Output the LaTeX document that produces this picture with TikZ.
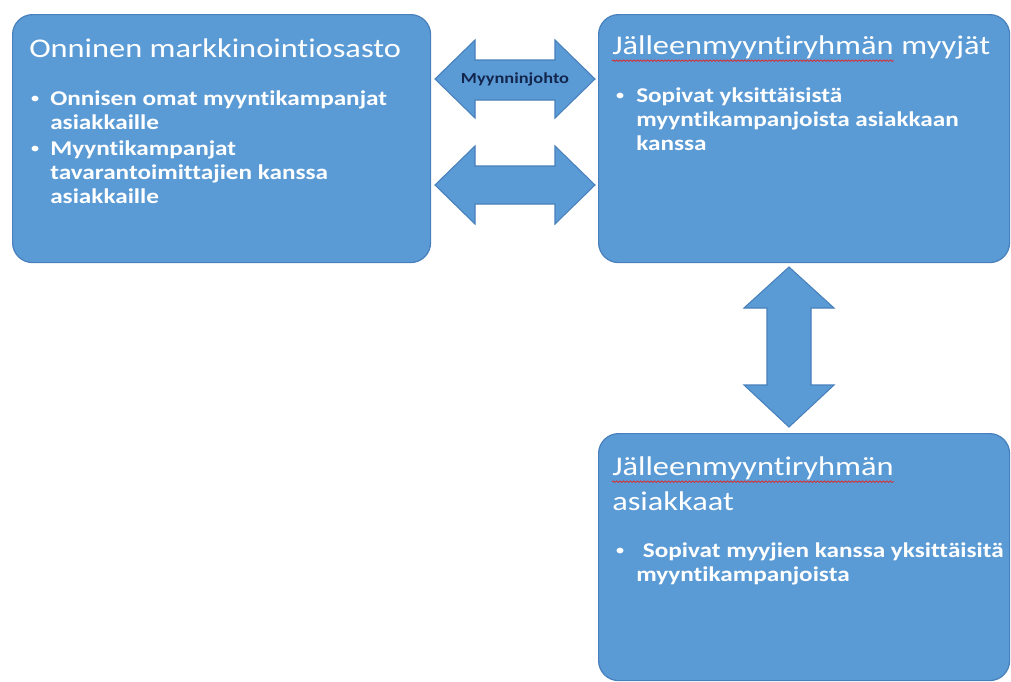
\documentclass[tikz,border=0pt]{standalone}
\usepackage{fontspec}
\newfontfamily\calf[FakeStretch=1.2, Ligatures=NoCommon]{Carlito}
\usetikzlibrary{decorations.pathmorphing}
\definecolor{boxblue}{RGB}{91,155,213}
\definecolor{boxline}{RGB}{72,128,188}
\definecolor{navyt}{RGB}{18,38,78}
\definecolor{squigred}{RGB}{215,45,45}
\begin{document}
\begin{tikzpicture}[x=0.75pt,y=-0.75pt,
  box/.style={draw=boxline, line width=0.9pt, fill=boxblue, rounded corners=15pt, anchor=north west, inner sep=0pt},
  arrowshape/.style={draw=boxline, line width=0.8pt, fill=boxblue, line join=miter},
  titletext/.style={anchor=base west, inner sep=0pt, text=white, font=\calf\fontsize{20.25}{26}\selectfont},
  bullettext/.style={anchor=base west, inner sep=0pt, text=white, font=\calf\bfseries\fontsize{15.75}{18}\selectfont},
  bulletdot/.style={anchor=base west, inner sep=0pt, text=white, font=\calf\fontsize{12}{12}\selectfont},
  labeltext/.style={inner sep=0pt, text=navyt, font=\calf\bfseries\fontsize{11.5}{13}\selectfont},
  squig/.style={draw=squigred, line width=0.6pt, decorate, decoration={snake, amplitude=0.55pt, segment length=2.6pt}}
]
\fill[white] (0,0) rectangle (1011,682);
\useasboundingbox (0,0) rectangle (1011,682);

% boxes
\node[box, minimum width=313.5pt, minimum height=186pt] (b1) at (12,14) {};
\node[box, minimum width=308.25pt, minimum height=186pt] (b2) at (598,14) {};
\node[box, minimum width=308.25pt, minimum height=185.25pt] (b3) at (598,433) {};

% arrows
\draw[arrowshape] (435,79) -- (475,40) -- (475,60) -- (555,60) -- (555,40) -- (595,79) -- (555,118) -- (555,100) -- (475,100) -- (475,118) -- cycle;
\node[labeltext] (mj) at (515,79) {Myynninjohto};
\draw[arrowshape] (435,185) -- (475,146) -- (475,166) -- (555,166) -- (555,146) -- (595,185) -- (555,224) -- (555,204) -- (475,204) -- (475,224) -- cycle;
\draw[arrowshape] (789,267) -- (834,308) -- (811,308) -- (811,385) -- (834,385) -- (789,427) -- (744,385) -- (767,385) -- (767,308) -- (744,308) -- cycle;

% box 1 text
\node[titletext] (t1) at (29,57) {Onninen markkinointiosasto};
\node[bulletdot] (d11) at (30,103) {•};
\node[bullettext] (u11) at (50,105) {\parbox[t]{330pt}{Onnisen omat myyntikampanjat\\asiakkaille}};
\node[bulletdot] (d12) at (30,153) {•};
\node[bullettext] (u12) at (50,155) {\parbox[t]{330pt}{Myyntikampanjat\\tavarantoimittajien kanssa\\asiakkaille}};

% box 2 text
\node[titletext] (t2a) at (612,54) {Jälleenmyyntiryhmän};
\node[titletext] (t2b) at ([xshift=5.5pt]t2a.base east) {myyjät};
\draw[squig] ([yshift=-5pt]t2a.base west) -- ([yshift=-5pt]t2a.base east);
\node[bulletdot] (d21) at (615,100) {•};
\node[bullettext] (u21) at (636,102) {\parbox[t]{330pt}{Sopivat yksittäisistä\\myyntikampanjoista asiakkaan\\kanssa}};

% box 3 text
\node[titletext] (t3a) at (612,475) {Jälleenmyyntiryhmän};
\draw[squig] ([yshift=-5pt]t3a.base west) -- ([yshift=-5pt]t3a.base east);
\node[titletext] (t3b) at (612,510) {asiakkaat};
\node[bulletdot] (d31) at (615,555) {•};
\node[bullettext] (u31) at (636,557) {\parbox[t]{330pt}{\hspace*{5pt}Sopivat myyjien kanssa yksittäisitä\\myyntikampanjoista}};
\end{tikzpicture}
\end{document}
